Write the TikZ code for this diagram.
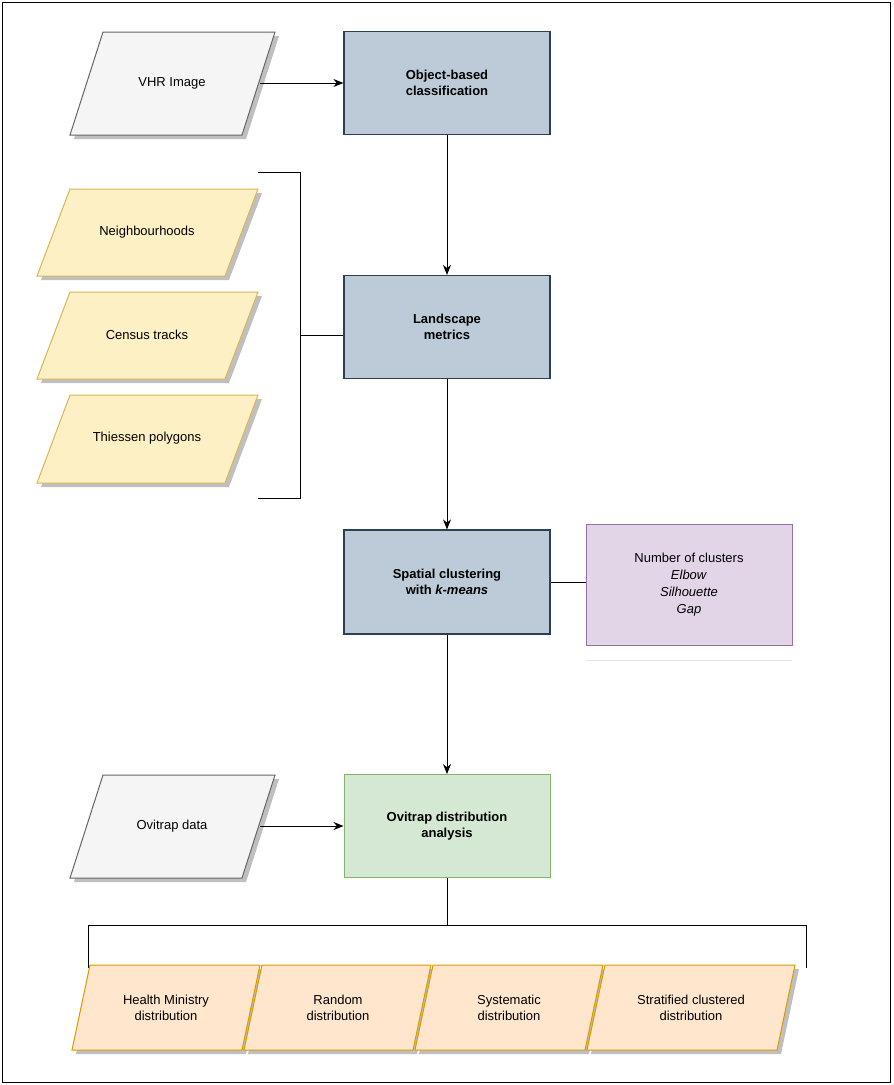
\documentclass[tikz,border=0pt]{standalone}
\usepackage{fontspec}
\setmainfont{Liberation Sans}
\usetikzlibrary{arrows.meta}
\definecolor{bluef}{HTML}{BCCBD7}\definecolor{blued}{HTML}{2F3F4F}
\definecolor{grayf}{HTML}{F5F5F5}\definecolor{grayd}{HTML}{666666}
\definecolor{yelf}{HTML}{FDF0C4}\definecolor{yeld}{HTML}{D6B656}
\definecolor{purf}{HTML}{E1D5E7}\definecolor{purd}{HTML}{9673A6}
\definecolor{grnf}{HTML}{D5E8D4}\definecolor{grnd}{HTML}{82B366}
\definecolor{orf}{HTML}{FFE6CC}\definecolor{ord}{HTML}{D79B00}
\tikzset{x=1pt,y=-1pt,
 procbox/.style={draw=blued,fill=bluef,line width=1.2pt,align=center,font=\fontsize{13}{16}\selectfont\bfseries},
 txt/.style={align=center,font=\fontsize{13}{16}\selectfont},
 arr/.style={-{Stealth[length=10pt,width=8pt]},line width=1pt},
 ln/.style={line width=1pt}}
\newcommand{\para}[7]{% x1 y1 x2 y2 slant fill draw
 \fill[black!25] ({#1+4},{#4+4}) -- ({#3-#5+4},{#4+4}) -- ({#3+4},{#2+4}) -- ({#1+#5+4},{#2+4}) -- cycle;
 \filldraw[fill=#6,draw=#7,line width=1pt] (#1,#4) -- ({#3-#5},#4) -- (#3,#2) -- ({#1+#5},#2) -- cycle;}
\begin{document}
\begin{tikzpicture}
\useasboundingbox (0,0) rectangle (894,1085);
\draw[line width=1pt] (2,2) rectangle (890,1082);
% inputs
\para{70}{32}{275}{135}{33}{grayf}{grayd}
\node[txt] (vhr) at (172,83) {VHR Image};
\para{70}{775}{275}{878}{33}{grayf}{grayd}
\node[txt] (ovd) at (172,826) {Ovitrap data};
\para{37}{189}{258}{276}{33}{yelf}{yeld}
\node[txt] (nb) at (147,232) {Neighbourhoods};
\para{37}{292}{258}{379}{33}{yelf}{yeld}
\node[txt] (ct) at (147,335) {Census tracks};
\para{37}{395}{258}{483}{33}{yelf}{yeld}
\node[txt] (tp) at (147,438) {Thiessen polygons};
% process boxes
\node[procbox,minimum width=206pt,minimum height=103pt] (obc) at (447,83) {Object-based\\classification};
\node[procbox,minimum width=206pt,minimum height=103pt] (lm) at (447,327) {Landscape\\metrics};
\node[procbox,minimum width=206pt,minimum height=104pt] (sc) at (447,582) {Spatial clustering\\with \textit{k-means}};
\node[procbox,draw=grnd,fill=grnf,line width=1pt,minimum width=206pt,minimum height=103pt] (ova) at (447,826) {Ovitrap distribution\\analysis};
\node[draw=purd,fill=purf,line width=1pt,minimum width=206pt,minimum height=121pt,txt,font=\fontsize{13}{17}\selectfont] (nc) at (689,585) {Number of clusters\\\textit{Elbow}\\\textit{Silhouette}\\\textit{Gap}};
\draw[black!10] (586,660) -- (792,660);
% connectors
\draw[arr] (vhr.east -| 260,83) -- (obc.west);
\draw[arr] (ovd.east -| 260,826) -- (ova.west);
\draw[arr] (obc) -- (lm);
\draw[arr] (lm) -- (sc);
\draw[arr] (sc) -- (ova);
\draw[ln] (sc.east) -- (nc.west |- sc.east);
\coordinate (bt) at (258,172); \coordinate (bb) at (258,498);
\draw[ln] (bt) -- (300,172) -- (300,498) -- (bb);
\draw[ln] (300,335) -- (lm.west |- 300,335);
\coordinate (hj) at (447,925);
\draw[ln] (ova.south) -- (hj);
\draw[ln] (88,968) -- (88,925) -- (806,925) -- (806,968);
% outputs
\para{72}{965}{260}{1050}{18}{orf}{ord}
\node[txt] (o1) at (166,1008) {Health Ministry\\distribution};
\para{244}{965}{431}{1050}{18}{orf}{ord}
\node[txt] (o2) at (338,1008) {Random\\distribution};
\para{415}{965}{603}{1050}{18}{orf}{ord}
\node[txt] (o3) at (509,1008) {Systematic\\distribution};
\para{587}{965}{795}{1050}{18}{orf}{ord}
\node[txt] (o4) at (691,1008) {Stratified clustered\\distribution};
\end{tikzpicture}
\end{document}
